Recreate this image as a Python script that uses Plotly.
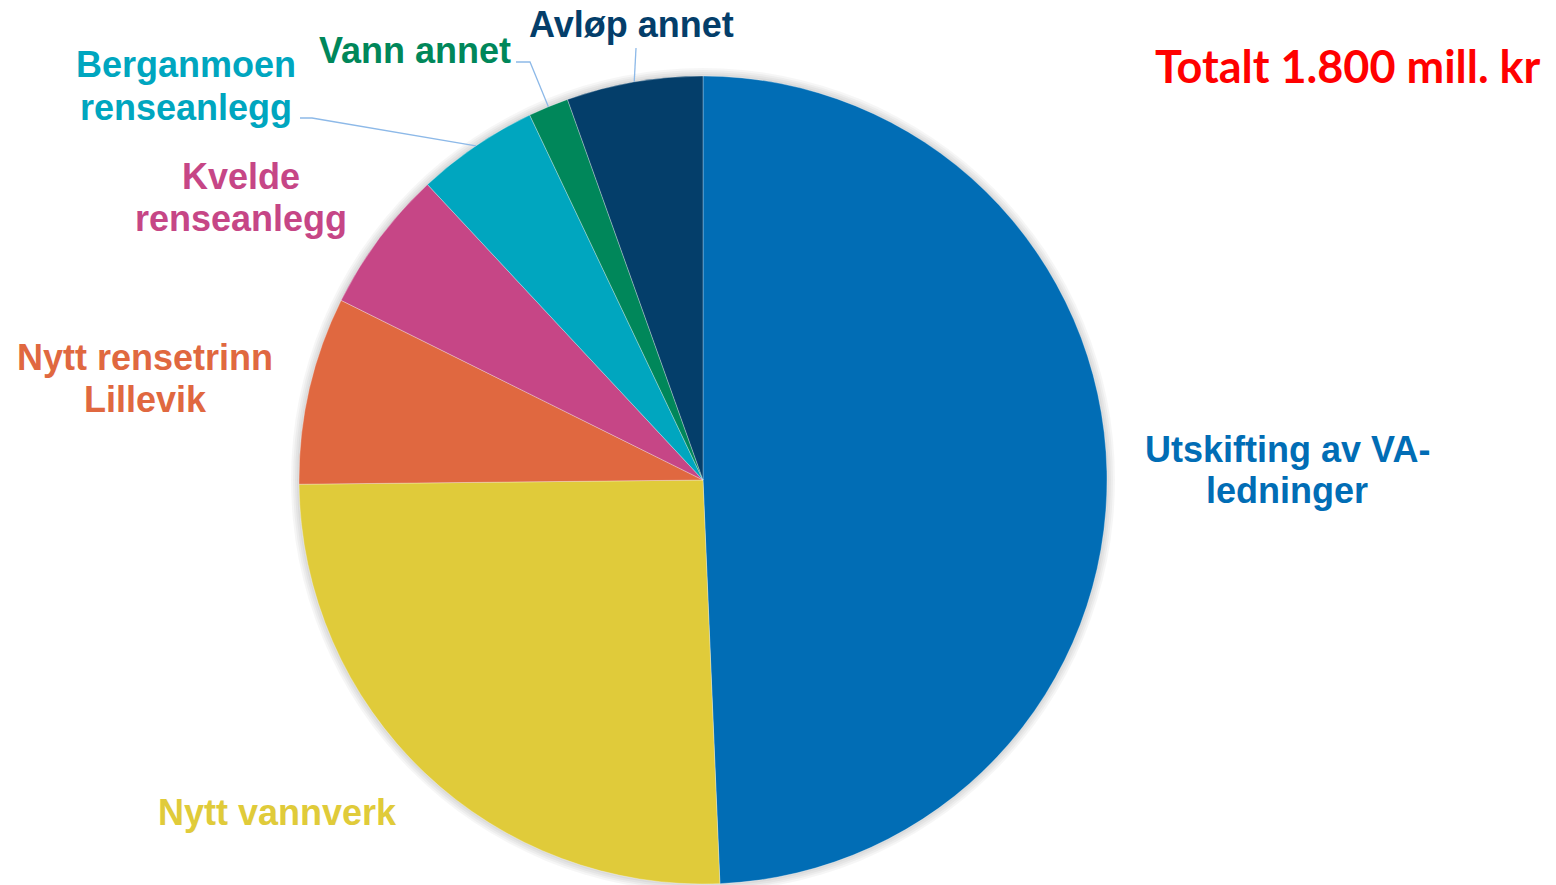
import math
import plotly.graph_objects as go

W, H = 1556, 885
OFF = 8  # page body margin in the browser

labels = ['Utskifting av VA-ledninger', 'Nytt vannverk', 'Nytt rensetrinn Lillevik',
          'Kvelde renseanlegg', 'Berganmoen renseanlegg', 'Vann annet', 'Avløp annet']
values = [888, 459, 135, 103, 88, 29, 98]  # mill. kr
colors = ['#016DB5', '#E0CB3A', '#E06840', '#C64686', '#00A6BF', '#00875A', '#043E6A']
label_lines = [['Utskifting av VA-', 'ledninger'], ['Nytt vannverk'], ['Nytt rensetrinn', 'Lillevik'],
               ['Kvelde', 'renseanlegg'], ['Berganmoen', 'renseanlegg'], ['Vann annet'], ['Avløp annet']]

# pie geometry in pixels
CX, CY, R = 703, 480, 404
# label centres in pixels
label_pos = [(1287, 470), (277, 812), (145, 378), (241, 197), (186, 86), (415, 50), (631, 24)]
LINE_H = 42


def px(x):
    return (x - OFF) / W


def py(y):
    return 1 - (y - OFF) / H


def pie_domain(r):
    return dict(x=[px(CX - r), px(CX + r)], y=[py(CY + r), py(CY - r)])


fig = go.Figure()

# soft shadow around the pie
for extra in (8, 6, 4, 2):
    fig.add_trace(go.Pie(
        values=[1], labels=['shadow'], marker=dict(colors=['rgba(0,0,0,0.035)']),
        textinfo='none', hoverinfo='skip', sort=False, showlegend=False,
        domain=pie_domain(R + extra),
    ))

fig.add_trace(go.Pie(
    labels=labels, values=values,
    marker=dict(colors=colors, line=dict(color='rgba(255,255,255,0.5)', width=0.6)),
    sort=False, direction='clockwise', rotation=0,
    textinfo='none', hoverinfo='label+value',
    domain=pie_domain(R),
    showlegend=False,
))

annotations = []
for lines, col, (x, y) in zip(label_lines, colors, label_pos):
    top = y - LINE_H * (len(lines) - 1) / 2
    for k, line in enumerate(lines):
        annotations.append(dict(
            x=px(x), y=py(top + k * LINE_H), xref='paper', yref='paper',
            text=f'<b>{line}</b>', showarrow=False,
            xanchor='center', yanchor='middle', align='center',
            font=dict(family='Liberation Sans, Arial, sans-serif', size=36, color=col),
        ))

annotations.append(dict(
    x=px(1543), y=py(66), xref='paper', yref='paper', text='<b>Totalt 1.800 mill. kr</b>',
    showarrow=False, xanchor='right', yanchor='middle',
    font=dict(family='Lato, sans-serif', size=45, color='#FF0000'),
))

# leader lines to slice mid-angles
total = sum(values)
cum = 0
mids = []
for v in values:
    mids.append((cum + v / 2) / total * 2 * math.pi)
    cum += v


def edge(i):
    a = mids[i]
    return CX + R * math.sin(a), CY - R * math.cos(a)


leaders = {4: [(300, 118), (312, 118)], 5: [(516, 62), (530, 62)], 6: [(636, 48)]}
shapes = []
for i, pts in leaders.items():
    ex, ey = edge(i)
    pts = pts + [(ex, ey)]
    path = 'M ' + ' L '.join(f'{px(a):.5f},{py(b):.5f}' for a, b in pts)
    shapes.append(dict(type='path', path=path, xref='paper', yref='paper',
                       line=dict(color='#8DB9E8', width=1.3)))

fig.update_layout(
    width=W, height=H,
    margin=dict(l=0, r=0, t=0, b=0),
    paper_bgcolor='white', plot_bgcolor='white',
    annotations=annotations, shapes=shapes,
    font=dict(family='Liberation Sans, Arial, sans-serif'),
)

fig.write_html('out.html')
